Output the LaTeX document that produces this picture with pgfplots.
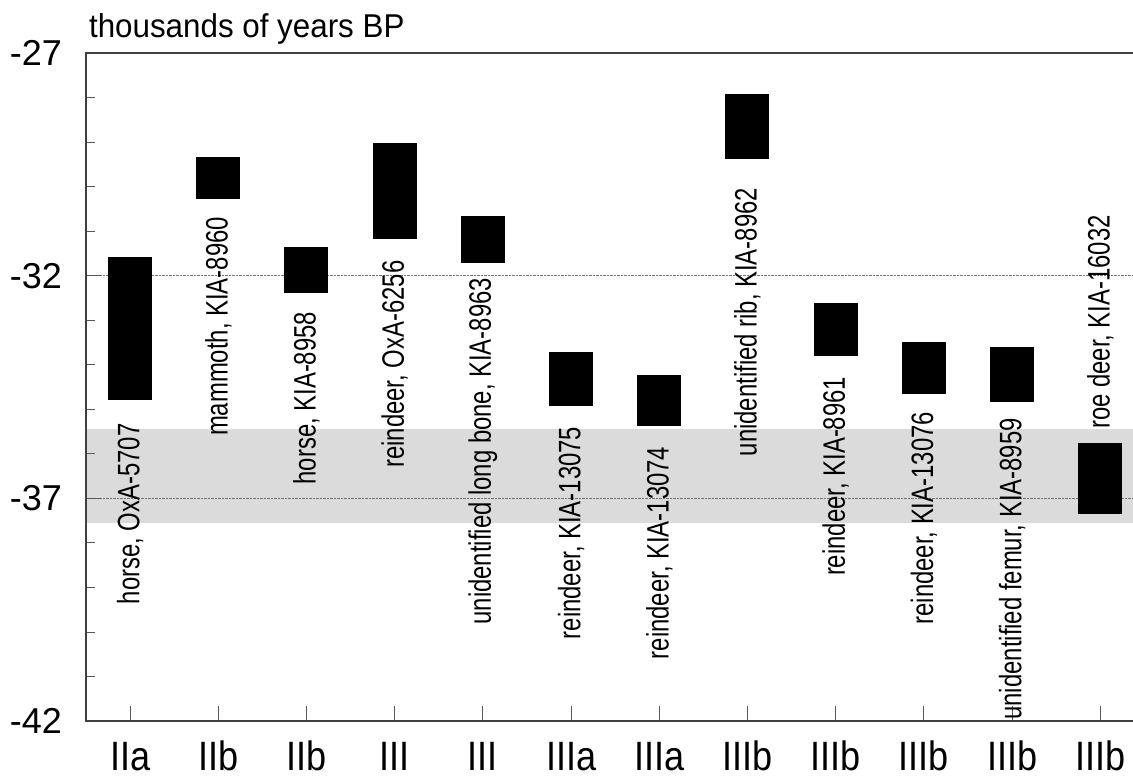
\documentclass[border=0pt]{standalone}
\usepackage{fontspec}
\setmainfont{Liberation Sans}
\usepackage{pgfplots}
\pgfplotsset{compat=1.18}
\usepackage{pgfplotstable}
\usetikzlibrary{calc}

\pgfplotstableread{
x lo hi
0 -34.79 -31.59
1 -30.28 -29.33
2 -32.38 -31.35
3 -31.18 -29.01
4 -31.71 -30.65
5 -34.93 -33.72
6 -35.37 -34.22
7 -29.39 -27.91
8 -33.80 -32.62
9 -34.66 -33.50
10 -34.83 -33.61
11 -37.36 -35.75
}\bars

\begin{document}
\begin{tikzpicture}[lbl/.style={rotate=90, xscale=0.77, anchor=east, inner sep=0pt, font=\fontsize{31}{31}\selectfont}]
\begin{axis}[
  name=ax, at={(0,0)}, anchor=south west,
  set layers, clip=false,
  scale only axis, width=1058.4pt, height=668pt,
  xmin=-0.5, xmax=11.5, ymin=-42, ymax=-27,
  xtick={0,...,11},
  xticklabels={IIa,IIb,IIb,III,III,IIIa,IIIa,IIIb,IIIb,IIIb,IIIb,IIIb},
  ytick={-42,-37,-32,-27},
  yticklabels={-42,-37,-32,-27},
  minor ytick={-41,-40,-39,-38,-36,-35,-34,-33,-31,-30,-29,-28},
  tick align=inside, xtick pos=left, ytick pos=left,
  major tick length=15pt, minor tick length=9pt,
  ymajorgrids, major grid style={densely dotted, black!55, line width=0.7pt},
  axis line style={line width=1.5pt, black!75},
  every tick/.style={black!65, line width=0.8pt},
  xticklabel style={font=\fontsize{41}{41}\selectfont, xscale=0.88, inner sep=0pt, anchor=base, yshift=-50pt},
  yticklabel style={font=\fontsize{36}{36}\selectfont, inner sep=0pt, anchor=east, xshift=-24pt},
]
\addplot[on layer=axis background, fill=black!14, draw=none]
  coordinates {(-0.5,-35.45) (11.5,-35.45) (11.5,-37.56) (-0.5,-37.56)} -- cycle;
\addplot[draw=none, mark=none,
  error bars/.cd, y dir=plus, y explicit, error mark=none,
  error bar style={line width=44pt, draw=black, solid}]
  table[x=x, y=lo, y error expr=\thisrow{hi}-\thisrow{lo}] {\bars};

\node[lbl] at (axis cs:0,-35.32) {horse, OxA-5707};
\node[lbl] at (axis cs:1,-30.68) {mammoth, KIA-8960};
\node[lbl] at (axis cs:2,-32.81) {horse, KIA-8958};
\node[lbl] at (axis cs:3,-31.66) {reindeer, OxA-6256};
\node[lbl] at (axis cs:4,-32.05) {unidentified long bone, KIA-8963};
\node[lbl] at (axis cs:5,-35.39) {reindeer, KIA-13075};
\node[lbl] at (axis cs:6,-35.84) {reindeer, KIA-13074};
\node[lbl] at (axis cs:7,-30.03) {unidentified rib, KIA-8962};
\node[lbl] at (axis cs:8,-34.27) {reindeer, KIA-8961};
\node[lbl] at (axis cs:9,-35.06) {reindeer, KIA-13076};
\node[lbl] at (axis cs:10,-35.20) {unidentified femur, KIA-8959};
\node[lbl] at (axis cs:11,-30.64) {roe deer, KIA-16032};

\node[anchor=base west, inner sep=0pt, xscale=0.95, font=\fontsize{33}{33}\selectfont]
  at (rel axis cs:0,1) [xshift=3pt, yshift=15pt] {thousands of years BP};
\end{axis}
\pgfresetboundingbox
\path[use as bounding box] ($(ax.south west)+(-86pt,-58pt)$) rectangle ($(ax.south west)+(1047pt,721pt)$);
\end{tikzpicture}
\end{document}
